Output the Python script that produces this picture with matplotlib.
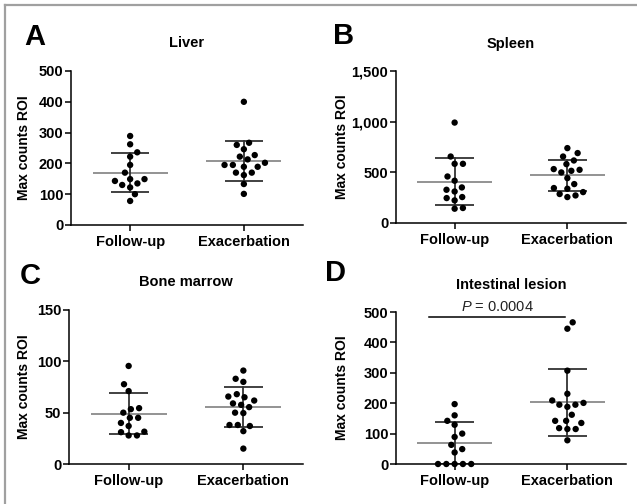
import numpy as np
import matplotlib
matplotlib.use('Agg')
import matplotlib.pyplot as plt
from matplotlib.lines import Line2D
from matplotlib.ticker import FuncFormatter

plt.rcParams.update({'font.family': ['Liberation Sans', 'DejaVu Sans'],
                     'mathtext.fontset': 'custom',
                     'mathtext.it': 'Liberation Sans:italic',
                     'mathtext.rm': 'Liberation Sans',
                     'axes.unicode_minus': False})

W_PX, H_PX, DPI = 637, 504, 100
GROUPS = ['Follow-up', 'Exacerbation']

liver_follow = [289, 262, 236, 222, 195, 170, 149, 149, 143, 135, 130, 122, 100, 78]
liver_exac = [400, 267, 260, 246, 227, 222, 213, 202, 195, 195, 189, 189, 170, 170, 162, 133, 101]
spleen_follow = [991, 656, 584, 584, 459, 417, 351, 328, 311, 256, 246, 223, 148, 141]
spleen_exac = [739, 690, 656, 617, 581, 532, 525, 515, 499, 443, 384, 345, 338, 305, 286, 272, 256]
marrow_follow = [95.5, 77.7, 71, 54.4, 53.4, 50, 45, 45, 40, 37, 31.5, 31, 27.8, 27.8]
marrow_exac = [91, 83, 80, 68, 65.7, 65, 61.8, 59, 57.6, 55.4, 50, 49.6, 38, 38, 37, 32, 15]
intest_follow = [197, 160, 142, 129, 100, 89, 63, 49, 38, 0, 0, 0, 0, 0]
intest_exac = [466, 445, 307, 231, 209, 201, 195, 195, 188, 162, 142, 142, 135, 118, 115, 115, 78]

p_value_text = '$P$ = 0.0004'

# (letter, title, follow, exac, ymax, yticks, left px, top px, bottom px, width px, ylabel offset px)
PANELS = [
    ('A', 'Liver', liver_follow, liver_exac, 500, [0, 100, 200, 300, 400, 500], 71, 71, 225, 232, 40),
    ('B', 'Spleen', spleen_follow, spleen_exac, 1500, [0, 500, 1000, 1500], 396, 71, 223, 230, 47),
    ('C', 'Bone marrow', marrow_follow, marrow_exac, 150, [0, 50, 100, 150], 69, 310, 464, 234, 38),
    ('D', 'Intestinal lesion', intest_follow, intest_exac, 500, [0, 100, 200, 300, 400, 500], 396, 312, 464, 230, 47),
]
LETTER_POS = {'A': (24, 37), 'B': (333, 36), 'C': (20, 276), 'D': (325, 273)}


def swarm_x(ax, xc, values, d=8.3):
    # simple beeswarm in pixel space, points kept as close to the centre as possible
    pts = ax.transData.transform(np.column_stack([np.full(len(values), xc), values]))
    ys = pts[:, 1]
    px_per_x = ax.transData.transform((xc + 1, 0))[0] - ax.transData.transform((xc, 0))[0]
    offs = np.zeros(len(values))
    placed = []
    flip = 1
    for i in np.argsort(ys, kind='stable'):
        y = ys[i]
        cands = [0.0]
        for px, py in placed:
            dy = abs(y - py)
            if dy < d:
                dx = np.sqrt(d * d - dy * dy)
                cands += [px + dx, px - dx]
        cands.sort(key=lambda c: (round(abs(c), 3), -flip * c))
        for c in cands:
            if all((c - px) ** 2 + (y - py) ** 2 >= d * d - 1e-6 for px, py in placed):
                break
        if c != 0:
            flip = -flip
        placed.append((c, y))
        offs[i] = c
    return xc + offs / px_per_x


def draw_panel(fig, letter, title, follow, exac, ymax, yticks, left, top, bottom, width, ylab_off):
    ax = fig.add_axes([left / W_PX, 1 - bottom / H_PX, width / W_PX, (bottom - top) / H_PX])
    ax.set_xlim(0.48, 2.52)
    ax.set_ylim(0, ymax)
    for s in ['top', 'right']:
        ax.spines[s].set_visible(False)
    for s in ['left', 'bottom']:
        ax.spines[s].set_linewidth(1.1)
    ax.set_xticks([1, 2])
    ax.set_xticklabels(GROUPS, fontsize=10.5, fontweight='bold')
    ax.set_yticks(yticks)
    ax.yaxis.set_major_formatter(FuncFormatter(lambda v, p: f'{int(v):,}'))
    ax.tick_params(axis='both', direction='out', length=4, width=1.1, labelsize=10.5, pad=1.5)
    ax.tick_params(axis='x', pad=3)
    for lab in ax.get_yticklabels():
        lab.set_fontweight('bold')
    ax.set_ylabel('Max counts ROI', fontsize=10, fontweight='bold')
    ax.yaxis.set_label_coords(-ylab_off / width, 0.5)
    ax.text(0.5, 1.18, title, transform=ax.transAxes, ha='center', va='center', fontsize=10.5, fontweight='bold')

    for xc, vals in zip([1, 2], [follow, exac]):
        vals = np.asarray(vals, dtype=float)
        m = vals.mean()
        sd = vals.std(ddof=1)
        ax.plot([xc - 0.33, xc + 0.33], [m, m], color='#8a8a8a', lw=1.3, zorder=2, solid_capstyle='butt')
        ax.plot([xc, xc], [m - sd, m + sd], color='#333333', lw=1.3, zorder=2)
        for yy in (m - sd, m + sd):
            ax.plot([xc - 0.17, xc + 0.17], [yy, yy], color='#333333', lw=1.3, zorder=2, solid_capstyle='butt')
        xs = swarm_x(ax, xc, vals)
        ax.scatter(xs, vals, s=21, color='black', edgecolor='none', zorder=3, clip_on=False)

    fx, fy = LETTER_POS[letter]
    fig.text(fx / W_PX, 1 - fy / H_PX, letter, fontsize=21, fontweight='bold', ha='left', va='center')
    return ax


fig = plt.figure(figsize=(W_PX / DPI, H_PX / DPI), dpi=DPI)
axes = {}
for p in PANELS:
    axes[p[0]] = draw_panel(fig, *p)

axd = axes['D']
axd.plot([0.77, 1.98], [484, 484], color='black', lw=1.1, clip_on=False)
axd.text(1.38, 492, p_value_text, ha='center', va='bottom', fontsize=10.5, color='#222222')

# grey frame on top and left edge
fig.add_artist(Line2D([5 / W_PX, 1], [1 - 5 / H_PX, 1 - 5 / H_PX], transform=fig.transFigure, color='#a0a0a0', lw=1.6))
fig.add_artist(Line2D([5 / W_PX, 5 / W_PX], [0, 1 - 5 / H_PX], transform=fig.transFigure, color='#a0a0a0', lw=1.6))

fig.savefig('out.png', dpi=DPI)
plt.close(fig)
